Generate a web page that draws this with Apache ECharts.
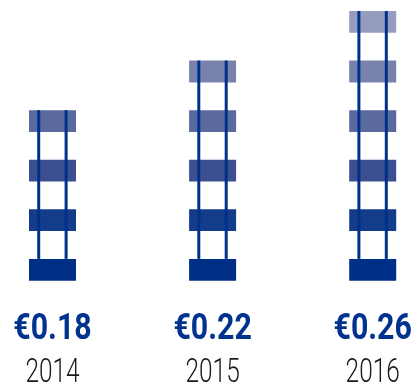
<!DOCTYPE html>
<html lang="en">
<head>
  <meta charset="UTF-8">
  <title>Dividend per share</title>
  <script src="https://cdn.jsdelivr.net/npm/echarts@6/dist/echarts.min.js"></script>
  <style>
    html, body { margin: 0; padding: 0; background: #fff; }
    #main { width: 417px; height: 388px; }
  </style>
</head>
<body>

<div id="main"></div>

<script>
  // data
  var years = ['2014', '2015', '2016'];
  var dividends = [0.18, 0.22, 0.26];
  var rungs = [4, 5, 6];
  // rung shades, from the bottom rung up
  var shades = ['#002F87', '#133C8B', '#3C4F90', '#5A6A9F', '#7882AC', '#969CBE'];

  var RUNG_H = 0.44;

  function renderItem(params, api) {
    var idx = params.dataIndex;
    var n = api.value(1);
    var base = api.coord([idx, 0]);
    var cx = base[0];
    var children = [];
    var halfW = 23.5;

    for (var i = 0; i < n; i++) {
      var top = api.coord([idx, i + RUNG_H])[1];
      var bot = api.coord([idx, i])[1];
      children.push({
        type: 'rect',
        shape: { x: cx - halfW, y: top, width: halfW * 2, height: bot - top },
        style: { fill: shades[i] }
      });
    }
    // the two rails, from the top rung down to the bottom rung
    var railTop = api.coord([idx, n - 1 + RUNG_H])[1];
    var railBot = api.coord([idx, RUNG_H])[1];
    [-13.8, 13.6].forEach(function (off) {
      children.push({
        type: 'line',
        shape: { x1: cx + off, y1: railTop, x2: cx + off, y2: railBot },
        style: { stroke: '#00318A', lineWidth: 3 }
      });
    });

    // value and year labels
    children.push({
      type: 'text',
      x: cx,
      y: 330,
      scaleX: 0.82,
      style: {
        text: '€' + api.value(2).toFixed(2),
        fill: '#00338D',
        font: 'bold 37px Roboto',
        align: 'center',
        verticalAlign: 'middle'
      }
    });
    children.push({
      type: 'text',
      x: cx,
      y: 374,
      scaleX: 0.74,
      style: {
        text: years[idx],
        fill: '#1a1a1a',
        font: '300 33px Roboto',
        align: 'center',
        verticalAlign: 'middle'
      }
    });

    return { type: 'group', children: children };
  }

  var seriesData = years.map(function (y, i) {
    return [i, rungs[i], dividends[i]];
  });

  echarts.init($('#main')).setOption({
    animation: false,
    grid: { left: 52.5, right: 44.3, top: 11, bottom: 107.3 },
    xAxis: {
      type: 'category',
      data: years,
      boundaryGap: false,
      show: false
    },
    yAxis: {
      type: 'value',
      min: 0,
      max: 5 + RUNG_H,
      show: false
    },
    series: [{
      type: 'custom',
      renderItem: renderItem,
      clip: false,
      encode: { x: 0, y: 1 },
      data: seriesData
    }]
  });

  function $(dom) {
    return document.querySelector(dom)
  }
</script>
</body>
</html>
